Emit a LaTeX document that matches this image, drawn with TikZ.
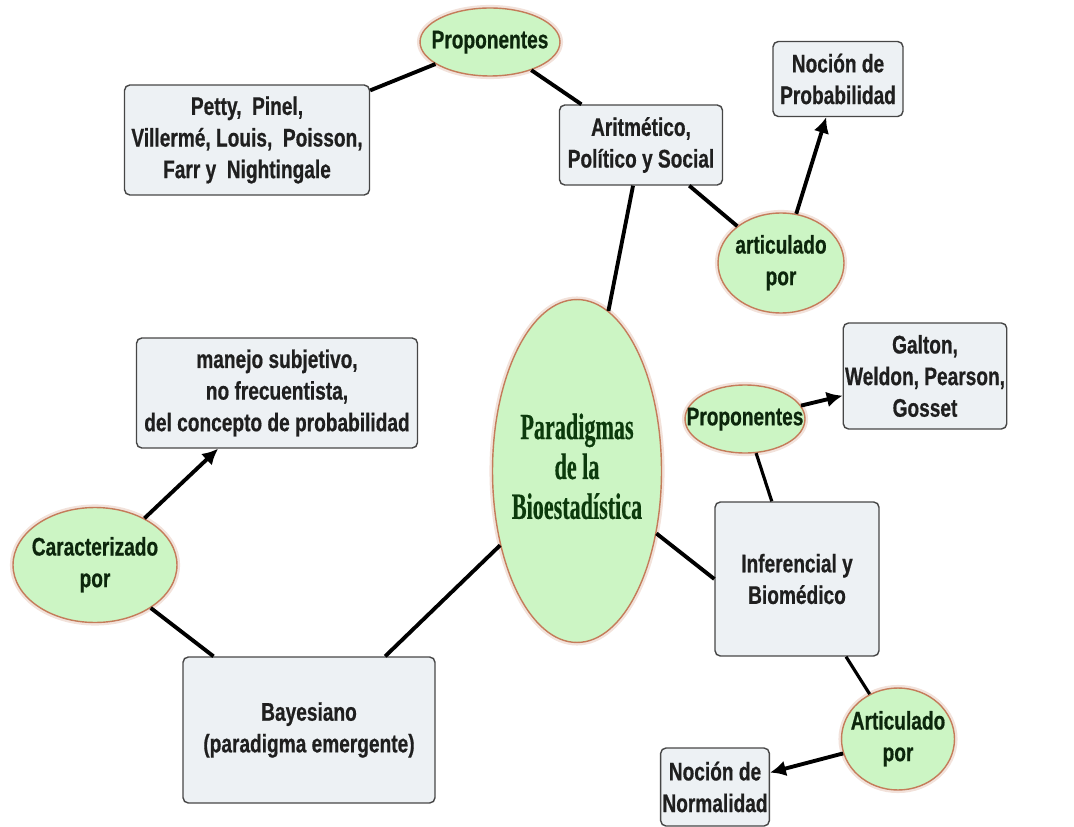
\documentclass[tikz,border=0pt]{standalone}
\usepackage{fontspec}
\setmainfont{Liberation Sans}[FakeStretch=0.75, BoldFeatures={FakeBold=0.6}]
\newfontfamily\titleFont{Liberation Serif}[FakeStretch=0.6, BoldFeatures={FakeBold=0.4}]
\usetikzlibrary{shapes,arrows.meta}
\definecolor{ovalFill}{RGB}{204,245,196}
\definecolor{ovalLine}{RGB}{196,124,90}
\definecolor{boxFill}{RGB}{237,241,244}
\definecolor{boxLine}{RGB}{70,70,70}
\definecolor{ovalText}{RGB}{12,38,12}
\definecolor{titleGreen}{RGB}{12,58,12}
\newcommand{\ovalLabel}[1]{\makebox[0pt][c]{\begin{tabular}{@{}c@{}}#1\end{tabular}}}
\tikzset{
	ovalNode/.style 2 args={
		ellipse,
		draw=ovalLine,
		fill=ovalFill,
		line width=0.8pt,
		preaction={draw=ovalLine!22, line width=3.5pt},
		inner sep=0pt,
		minimum width=#1,
		minimum height=#2,
		text=ovalText,
		font=\bfseries\fontsize{14.5}{18}\selectfont
	},
	titleText/.style={
		text=titleGreen,
		font=\titleFont\bfseries\fontsize{21}{22.7}\selectfont
	},
	boxNode/.style 2 args={
		rectangle,
		rounded corners=3pt,
		draw=boxLine,
		fill=boxFill,
		line width=0.8pt,
		inner sep=1pt,
		minimum width=#1,
		minimum height=#2,
		align=center,
		text=black!88,
		font=\bfseries\fontsize{14.5}{18}\selectfont
	},
	linkEdge/.style={line width=2.2pt, draw=black},
	thinEdge/.style={line width=1.8pt, draw=black},
	arrowEdge/.style={line width=2.2pt, draw=black, -{Latex[length=9pt, width=9pt]}},
}

\begin{document}
\begin{tikzpicture}[x=0.02cm, y=-0.02cm]
\useasboundingbox (0,0) rectangle (1074,827);

% centre
\node[ovalNode={3.38cm}{6.86cm}, titleText] (Paradig) at (577,471)
    {\ovalLabel{Paradigmas\\ de la\\ Bioestadística}};

% arithmetic branch
\node[ovalNode={2.8cm}{1.36cm}] (PropTop) at (490,42) {\ovalLabel{Proponentes}};
\node[boxNode={4.9cm}{2.2cm}] (Petty) at (247,140) {Petty,\ \ Pinel,\\ Villermé, Louis,\ \ Poisson,\\ Farr y\ \ Nightingale};
\node[boxNode={3.26cm}{1.6cm}] (Aritm) at (641,145) {Aritmético,\\ Político y Social};
\node[ovalNode={2.52cm}{2.0cm}] (ArtPor) at (781,263) {\ovalLabel{articulado\\ por}};
\node[boxNode={2.6cm}{1.5cm}] (NocProb) at (838,79) {Noción de\\ Probabilidad};

% inferential branch
\node[ovalNode={2.4cm}{1.36cm}] (PropRight) at (745,419) {\ovalLabel{Proponentes}};
\node[boxNode={3.02cm}{2.12cm}] (Galton) at (925,376) {Galton,\\ Weldon, Pearson,\\ Gosset};
\node[boxNode={3.28cm}{3.08cm}] (Infer) at (797,579) {Inferencial y\\ Biomédico};
\node[ovalNode={2.26cm}{2.04cm}] (ArtPorB) at (898,739) {\ovalLabel{Articulado\\ por}};
\node[boxNode={2.1cm}{1.56cm}] (NocNorm) at (715,787) {Noción de\\ Normalidad};

% bayesian branch
\node[boxNode={5.04cm}{2.92cm}] (Bayes) at (309,730) {Bayesiano\\ (paradigma emergente)};
\node[ovalNode={3.28cm}{2.3cm}] (Caract) at (95,565) {\ovalLabel{Caracterizado\\ por}};
\node[boxNode={5.62cm}{2.2cm}] (Manejo) at (277,393) {manejo subjetivo,\\ no frecuentista,\\ del concepto de probabilidad};

\path[linkEdge] (PropTop) edge[] (Petty);
\path[linkEdge] (PropTop) edge[] (Aritm);
\path[linkEdge] (Aritm) edge[] (ArtPor);
\path[arrowEdge] (ArtPor) edge[] (NocProb);
\path[linkEdge] (Aritm) edge[] (Paradig);

\path[linkEdge] (Paradig) edge[] (Infer.west);
\path[thinEdge] (Infer) edge[] (PropRight);
\path[arrowEdge] (PropRight) edge[] (Galton);
\path[thinEdge] (Infer) edge[] (ArtPorB);
\path[arrowEdge] (ArtPorB) edge[] (NocNorm);

\path[linkEdge] (Paradig) edge[] (Bayes);
\path[linkEdge] (Bayes) edge[] (Caract);
\path[arrowEdge] (Caract) edge[] (Manejo);

\end{tikzpicture}
\end{document}
